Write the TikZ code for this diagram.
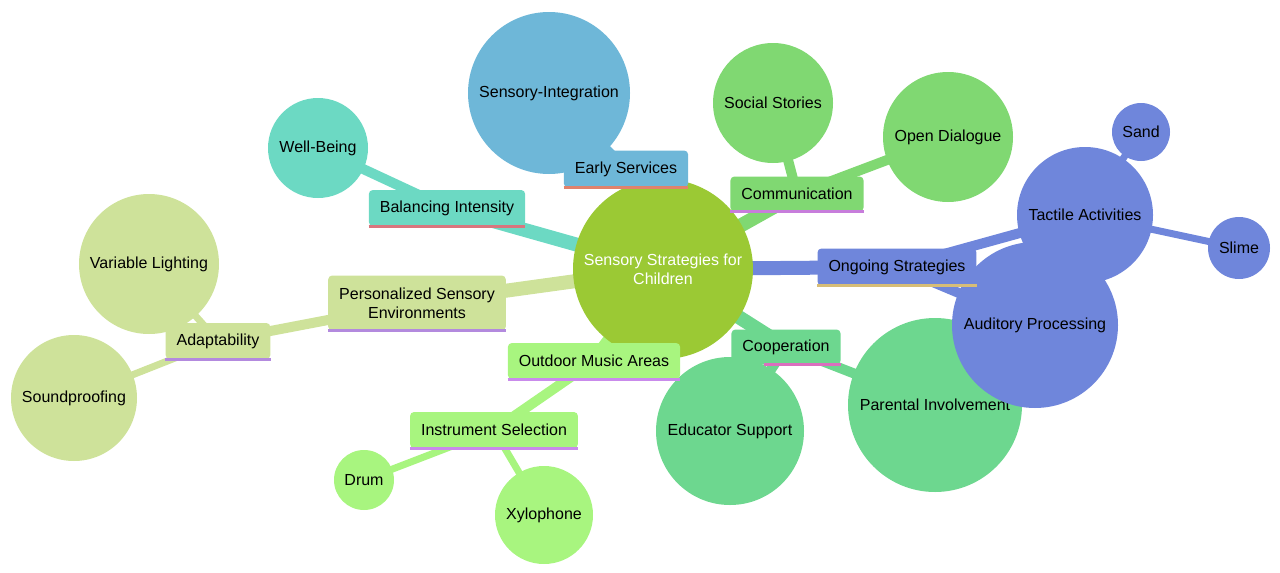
\documentclass[tikz,border=0pt]{standalone}
\usepackage{fontspec}
\setmainfont{Liberation Sans}
\usetikzlibrary{backgrounds}
\definecolor{kokYesil}{HTML}{9BC934}
\definecolor{gokMavi}{HTML}{6EB7D8}
\definecolor{cimenYesil}{HTML}{80D872}
\definecolor{lavMavi}{HTML}{6F86DB}
\definecolor{naneYesil}{HTML}{6DD78F}
\definecolor{acikYesil}{HTML}{A8F57F}
\definecolor{soluk}{HTML}{CEE29A}
\definecolor{turkuaz}{HTML}{6CD9C3}
\definecolor{somon}{HTML}{E0826C}
\definecolor{gul}{HTML}{D9767E}
\definecolor{mor}{HTML}{C77DDB}
\definecolor{leylak}{HTML}{C98BEB}
\definecolor{lavanta}{HTML}{B38ADE}
\definecolor{hardal}{HTML}{D7BD77}
\definecolor{pembe}{HTML}{DB6FBE}

\begin{document}
\begin{tikzpicture}[x=1pt,y=-1pt,
  font=\fontsize{16}{19}\selectfont,
  top/.style={circle,inner sep=0pt,minimum size=#1,yshift=0pt},
  kutu/.style={rectangle,rounded corners=4pt,inner xsep=11pt,inner ysep=0pt,
    minimum height=36pt,align=center},
  kalin/.style={line width=14pt},
  orta/.style={line width=10pt},
  ince/.style={line width=7pt}]
\useasboundingbox (0,0) rectangle (1280,573);
% root
\node[top=180,fill=kokYesil,text=white,align=center] (kok) at (663,269) {Sensory Strategies for\\Children};
% leaves
\node[top=162,fill=gokMavi] (duyuBut) at (549,93) {Sensory-Integration};
\node[top=120,fill=cimenYesil] (sosyal) at (773,103) {Social Stories};
\node[top=130,fill=cimenYesil] (diyalog) at (948,137) {Open Dialogue};
\node[top=136,fill=lavMavi] (dokun) at (1085,215) {Tactile Activities};
\node[top=58,fill=lavMavi] (kum) at (1141,132) {Sand};
\node[top=62,fill=lavMavi] (slime) at (1239,248) {Slime};
\node[top=174,fill=naneYesil] (veli) at (935,405) {Parental Involvement};
\node[top=166,fill=lavMavi] (isit) at (1035,325) {Auditory Processing};
\node[top=148,fill=naneYesil] (egitmen) at (730,431) {Educator Support};
\node[top=60,fill=acikYesil] (davul) at (364,480) {Drum};
\node[top=98,fill=acikYesil] (ksilo) at (544,515) {Xylophone};
\node[top=140,fill=soluk] (isik) at (149,264) {Variable Lighting};
\node[top=126,fill=soluk] (ses) at (74,398) {Soundproofing};
\node[top=100,fill=turkuaz] (iyilik) at (318,148) {Well-Being};
% branches
\node[kutu,fill=gokMavi,minimum height=37pt] (erken) at (626,169) {Early Services};
\node[kutu,fill=cimenYesil,minimum height=35pt] (iletisim) at (797,194) {Communication};
\node[kutu,fill=lavMavi,minimum height=37pt] (surekli) at (897,267) {Ongoing Strategies};
\node[kutu,fill=naneYesil,minimum height=35pt] (isbirligi) at (786,347) {Cooperation};
\node[kutu,fill=acikYesil] (acikHava) at (594,361) {Outdoor Music Areas};
\node[kutu,fill=soluk,minimum height=55pt] (kisisel) at (417,303) {Personalized Sensory\\Environments};
\node[kutu,fill=turkuaz] (denge) at (447,208) {Balancing Intensity};
\node[kutu,fill=acikYesil] (enstruman) at (494,430) {Instrument Selection};
\node[kutu,fill=soluk] (uyum) at (218,341) {Adaptability};
\foreach \n/\c in {erken/somon,iletisim/mor,surekli/hardal,acikHava/leylak,
  kisisel/lavanta,denge/gul,enstruman/leylak,uyum/lavanta}
  \draw[line width=3pt,\c] (\n.south west) -- (\n.south east);
\draw[line width=3pt,pembe] ([xshift=33pt]isbirligi.south west) -- (isbirligi.south east);
% connectors
\begin{scope}[on background layer]
\draw[kalin,gokMavi] (kok.center) -- (erken.center);
\draw[orta,gokMavi] (erken.center) -- (duyuBut.center);
\draw[kalin,cimenYesil] (kok.center) -- (iletisim.center);
\draw[orta,cimenYesil] (iletisim.center) -- (sosyal.center);
\draw[orta,cimenYesil] (iletisim.center) -- (diyalog.center);
\draw[kalin,lavMavi] (kok.center) -- (surekli.center);
\draw[orta,lavMavi] (surekli.center) -- (dokun.center);
\draw[orta,lavMavi] (surekli.center) -- (isit.center);
\draw[ince,lavMavi] (dokun.center) -- (kum.center);
\draw[ince,lavMavi] (dokun.center) -- (slime.center);
\draw[kalin,naneYesil] (kok.center) -- (isbirligi.center);
\draw[orta,naneYesil] (isbirligi.center) -- (egitmen.center);
\draw[orta,naneYesil] (isbirligi.center) -- (veli.center);
\draw[kalin,acikYesil] (kok.center) -- (acikHava.center);
\draw[orta,acikYesil] (acikHava.center) -- (enstruman.center);
\draw[ince,acikYesil] (enstruman.center) -- (davul.center);
\draw[ince,acikYesil] (enstruman.center) -- (ksilo.center);
\draw[kalin,soluk] (kok.center) -- (kisisel.center);
\draw[orta,soluk] (kisisel.center) -- (uyum.center);
\draw[ince,soluk] (uyum.center) -- (isik.center);
\draw[ince,soluk] (uyum.center) -- (ses.center);
\draw[kalin,turkuaz] (kok.center) -- (denge.center);
\draw[orta,turkuaz] (denge.center) -- (iyilik.center);
\end{scope}
\end{tikzpicture}
\end{document}
